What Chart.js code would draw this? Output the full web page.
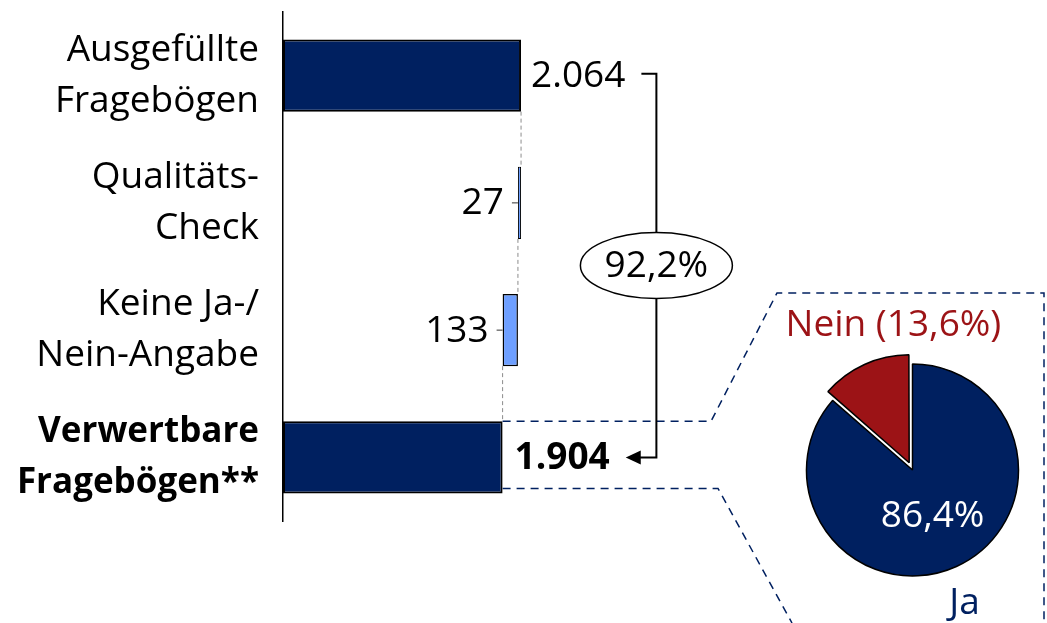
<!DOCTYPE html>
<html>
<head>
<meta charset="utf-8">
<script src="https://cdn.jsdelivr.net/npm/chart.js@4"></script>
<style>
  html, body { margin: 0; padding: 0; background: #fff; }
  #wrap { position: relative; width: 1047px; height: 623px; }
  #barChart { position: absolute; left: 0; top: 0; }
  #pieChart { position: absolute; left: 780px; top: 290px; }
</style>
</head>
<body>
<div id="wrap">
  <canvas id="barChart" width="1047" height="623"></canvas>
  <canvas id="pieChart" width="265" height="333"></canvas>
</div>
<script>
const categories = [
    ['Ausgefüllte', 'Fragebögen'],
    ['Qualitäts-', 'Check'],
    ['Keine Ja-/', 'Nein-Angabe'],
    ['Verwertbare', 'Fragebögen**']
];
const counts = [2064, 27, 133, 1904];
const pieLabels = ['Ja', 'Nein'];
const pieValues = [86.4, 13.6];

const NAVY = '#002060';
const LIGHT = '#6e9fff';
const RED = '#9c1316';
const FONT = "'Open Sans', sans-serif";

// waterfall: total, two drops, remaining total
const ranges = [
    [0, counts[0]],
    [counts[0] - counts[1], counts[0]],
    [counts[0] - counts[1] - counts[2], counts[0] - counts[1]],
    [0, counts[3]]
];
const fmt = v => v.toLocaleString('de-DE');
const share = (counts[3] / counts[0] * 100).toFixed(1).replace('.', ',') + '%';

const overlay = {
    id: 'overlay',
    afterDatasetsDraw(chart) {
        const ctx = chart.ctx;
        const xs = chart.scales.x;
        const bars = chart.getDatasetMeta(0).data;
        ctx.save();

        // grey connectors between the steps
        ctx.strokeStyle = '#8c8c8c';
        ctx.lineWidth = 1;
        ctx.setLineDash([4, 3]);
        for (let i = 0; i < bars.length - 1; i++) {
            const a = bars[i], b = bars[i + 1];
            const x = xs.getPixelForValue(ranges[i + 1][1]);
            ctx.beginPath();
            ctx.moveTo(x, a.y + a.height / 2);
            ctx.lineTo(x, b.y - b.height / 2);
            ctx.stroke();
        }

        // navy dashed lines towards the pie
        const last = bars[3];
        const right = Math.max(last.x, last.base);
        const top = last.y - last.height / 2;
        const bottom = last.y + last.height / 2 - 5;
        ctx.strokeStyle = NAVY;
        ctx.lineWidth = 1.5;
        ctx.setLineDash([8, 6]);
        ctx.beginPath();
        ctx.moveTo(right, top);
        ctx.lineTo(711, top);
        ctx.lineTo(777, 293);
        ctx.lineTo(chart.width - 3, 293);
        ctx.lineTo(chart.width - 3, chart.height);
        ctx.stroke();
        ctx.beginPath();
        ctx.moveTo(right, bottom);
        ctx.lineTo(718, bottom);
        ctx.lineTo(792, chart.height);
        ctx.stroke();
        ctx.setLineDash([]);

        // value labels
        ctx.fillStyle = '#000';
        ctx.textBaseline = 'middle';
        let rightOfFirst = 0, rightOfLast = 0;
        bars.forEach((bar, i) => {
            const lo = Math.min(bar.x, bar.base);
            const hi = Math.max(bar.x, bar.base);
            const txt = fmt(counts[i]);
            if (i === 0 || i === 3) {
                ctx.font = (i === 3 ? 'bold ' : '') + '37px ' + FONT;
                ctx.textAlign = 'left';
                ctx.fillText(txt, hi + (i === 3 ? 12 : 10), bar.y + 1);
                const w = ctx.measureText(txt).width;
                if (i === 0) rightOfFirst = hi + 10 + w;
                else rightOfLast = hi + 12 + w;
            } else {
                ctx.font = '37px ' + FONT;
                ctx.textAlign = 'right';
                ctx.fillText(txt, lo - 14, bar.y + 1);
                ctx.strokeStyle = '#333';
                ctx.lineWidth = 1;
                ctx.beginPath();
                ctx.moveTo(lo - 6, bar.y);
                ctx.lineTo(lo, bar.y);
                ctx.stroke();
            }
        });

        // bracket with arrow
        const bx = rightOfFirst + 31;
        const y0 = bars[0].y - 2;
        const y1 = bars[3].y;
        const tip = rightOfLast + 16;
        ctx.strokeStyle = '#000';
        ctx.lineWidth = 2;
        ctx.beginPath();
        ctx.moveTo(rightOfFirst + 16, y0);
        ctx.lineTo(bx, y0);
        ctx.lineTo(bx, y1);
        ctx.lineTo(tip + 12, y1);
        ctx.stroke();
        ctx.fillStyle = '#000';
        ctx.beginPath();
        ctx.moveTo(tip, y1);
        ctx.lineTo(tip + 15, y1 - 7);
        ctx.lineTo(tip + 15, y1 + 7);
        ctx.closePath();
        ctx.fill();

        // ellipse with share
        const ey = (bars[1].y + bars[2].y) / 2 - 1;
        ctx.fillStyle = '#fff';
        ctx.lineWidth = 1.5;
        ctx.beginPath();
        ctx.ellipse(bx, ey, 76, 33, 0, 0, Math.PI * 2);
        ctx.fill();
        ctx.stroke();
        ctx.fillStyle = '#000';
        ctx.font = '37px ' + FONT;
        ctx.textAlign = 'center';
        ctx.fillText(share, bx, ey + 1);
        ctx.restore();
    }
};

new Chart(document.getElementById('barChart').getContext('2d'), {
    type: 'bar',
    data: {
        labels: categories,
        datasets: [{
            data: ranges,
            backgroundColor: [NAVY, LIGHT, LIGHT, NAVY],
            borderColor: '#000',
            borderWidth: [2, 1, 1.5, 2],
            borderSkipped: false,
            barPercentage: 0.566,
            categoryPercentage: 1
        }]
    },
    options: {
        indexAxis: 'y',
        responsive: false,
        animation: false,
        layout: { padding: { top: 12, bottom: 102, left: 0, right: 72 } },
        plugins: {
            legend: { display: false },
            tooltip: { enabled: false }
        },
        scales: {
            x: {
                display: false,
                min: 0,
                max: 6000
            },
            y: {
                afterFit: scale => {
                    scale.width = 283;
                    scale.paddingTop = 0;
                    scale.paddingBottom = 0;
                },
                grid: { display: false, drawTicks: false },
                border: { display: true, color: '#000', width: 1.5 },
                ticks: {
                    color: '#000',
                    padding: 24,
                    font: ctx => ({
                        family: FONT,
                        size: ctx.index === 3 ? 35 : 37,
                        lineHeight: ctx.index === 3 ? 1.46 : 1.38,
                        weight: ctx.index === 3 ? 'bold' : 'normal'
                    })
                }
            }
        }
    },
    plugins: [overlay]
});

const pieText = {
    id: 'pieText',
    afterDatasetsDraw(chart) {
        const ctx = chart.ctx;
        const arc = chart.getDatasetMeta(0).data[0];
        const cx = arc.x, cy = arc.y, r = arc.outerRadius;
        ctx.save();
        ctx.textAlign = 'center';
        ctx.textBaseline = 'middle';
        ctx.font = '37px ' + FONT;
        ctx.fillStyle = RED;
        ctx.fillText(pieLabels[1] + ' (' + String(pieValues[1]).replace('.', ',') + '%)', cx - 0.18 * r, cy - 1.36 * r);
        ctx.fillStyle = '#fff';
        ctx.fillText(String(pieValues[0]).replace('.', ',') + '%', cx + 0.19 * r, cy + 0.44 * r);
        ctx.fillStyle = NAVY;
        ctx.fillText(pieLabels[0], cx + 0.49 * r, cy + 1.26 * r);
        ctx.restore();
    }
};

new Chart(document.getElementById('pieChart').getContext('2d'), {
    type: 'pie',
    data: {
        labels: pieLabels,
        datasets: [{
            data: pieValues,
            backgroundColor: [NAVY, RED],
            borderColor: '#000',
            borderWidth: 1.5,
            offset: [0, 32]
        }]
    },
    options: {
        responsive: false,
        animation: false,
        radius: 106,
        layout: { padding: { top: 40, bottom: 13 } },
        plugins: {
            legend: { display: false },
            tooltip: { enabled: false }
        }
    },
    plugins: [pieText]
});
</script>
</body>
</html>
